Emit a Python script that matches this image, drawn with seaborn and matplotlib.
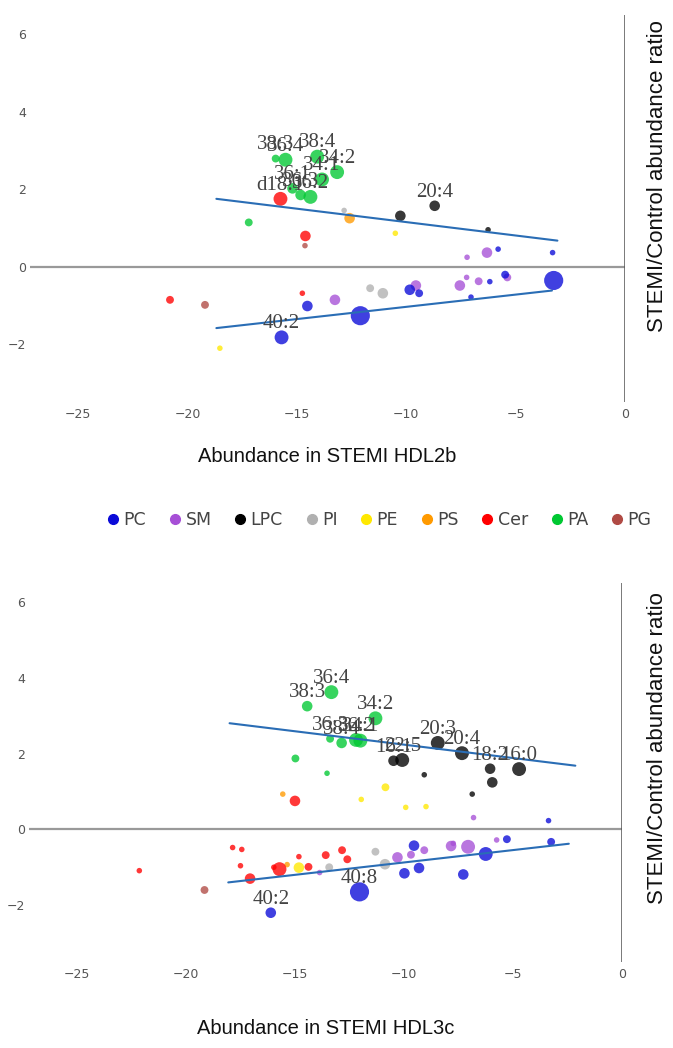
import numpy as np
import pandas as pd
import seaborn as sns
import matplotlib.pyplot as plt
from matplotlib.lines import Line2D

classes = ['PC', 'SM', 'LPC', 'PI', 'PE', 'PS', 'Cer', 'PA', 'PG']
class_colors = ['#0a0ad8', '#a64fd6', '#000000', '#b0b0b0', '#ffe800',
                '#ff9a00', '#ff0000', '#00c832', '#b04a44']

# ---- HDL2b panel ----
b2_x = [-15.97, -15.52, -14.07, -13.16, -13.85, -15.20, -14.83, -14.38, -17.20,
        -15.75, -14.61, -14.75, -20.80,
        -14.63, -19.20,
        -12.84, -11.65, -11.07,
        -12.59,
        -10.27, -8.70, -6.26,
        -10.50, -18.52,
        -6.31, -7.22, -7.24, -6.69, -7.55, -5.38, -9.56, -13.26,
        -5.80, -3.31, -3.26, -6.18, -5.48, -9.84, -9.41, -7.04, -14.52, -12.10, -15.70]
b2_y = [2.79, 2.76, 2.84, 2.44, 2.25, 2.02, 1.85, 1.80, 1.14,
        1.75, 0.79, -0.69, -0.86,
        0.54, -0.99,
        1.45, -0.56, -0.69,
        1.25,
        1.31, 1.57, 0.95,
        0.86, -2.11,
        0.36, 0.24, -0.28, -0.38, -0.49, -0.28, -0.49, -0.86,
        0.45, 0.36, -0.36, -0.39, -0.21, -0.60, -0.69, -0.79, -1.02, -1.27, -1.83]
b2_cls = ['PA'] * 9 + ['Cer'] * 4 + ['PG'] * 2 + ['PI'] * 3 + ['PS'] + ['LPC'] * 3 \
         + ['PE'] * 2 + ['SM'] * 8 + ['PC'] * 11
b2_wt = [2, 4, 4, 4, 4, 3, 3, 4, 2,
         4, 3, 1, 2,
         1, 2,
         1, 2, 3,
         3,
         3, 3, 1,
         1, 1,
         3, 1, 1, 2, 3, 2, 3, 3,
         1, 1, 5, 1, 2, 3, 2, 1, 3, 5, 4]
b2_lab = ['38:3', '36:4', '38:4', '34:2', '34:1', '36:1', '36:3', '36:2', '',
          'd18:1', '', '', '',
          '', '',
          '', '', '',
          '',
          '', '20:4', '',
          '', '',
          '', '', '', '', '', '', '', '',
          '', '', '', '', '', '', '', '', '', '', '40:2']
b2_up_x = [-18.68, -3.09]
b2_up_y = [1.75, 0.67]
b2_lo_x = [-18.68, -3.34]
b2_lo_y = [-1.59, -0.62]

# ---- HDL3c panel ----
b3_x = [-13.33, -14.44, -11.31, -13.39, -12.86, -12.20, -12.00, -14.98, -13.53,
        -10.48, -10.08, -8.45, -7.34, -6.05, -4.72, -9.07, -5.95, -6.87,
        -10.85, -11.96, -9.92, -8.99, -14.82,
        -15.56, -15.36,
        -15.00, -17.86, -17.44, -17.50, -17.06, -15.97, -15.71, -14.82, -14.38, -13.59,
        -12.84, -12.60, -22.14,
        -19.15,
        -11.31, -13.43, -10.87,
        -13.87, -10.30, -9.68, -9.07, -7.84, -7.74, -7.06, -5.75, -6.81,
        -9.54, -9.98, -9.31, -7.28, -6.25, -5.28, -3.25, -3.37, -12.04, -16.11]
b3_y = [3.62, 3.25, 2.93, 2.39, 2.28, 2.36, 2.34, 1.87, 1.48,
        1.81, 1.83, 2.28, 2.01, 1.60, 1.59, 1.44, 1.24, 0.93,
        1.11, 0.79, 0.58, 0.60, -1.01,
        0.93, -0.93,
        0.75, -0.48, -0.53, -0.96, -1.30, -1.00, -1.05, -0.72, -0.99, -0.68,
        -0.55, -0.79, -1.09,
        -1.60,
        -0.59, -1.00, -0.92,
        -1.14, -0.74, -0.67, -0.55, -0.44, -0.37, -0.46, -0.28, 0.31,
        -0.43, -1.16, -1.02, -1.19, -0.65, -0.26, -0.33, 0.23, -1.65, -2.20]
b3_cls = ['PA'] * 9 + ['LPC'] * 9 + ['PE'] * 5 + ['PS'] * 2 + ['Cer'] * 13 + ['PG'] \
         + ['PI'] * 3 + ['SM'] * 9 + ['PC'] * 10
b3_wt = [4, 3, 4, 2, 3, 4, 4, 2, 1,
         3, 4, 4, 4, 3, 4, 1, 3, 1,
         2, 1, 1, 1, 3,
         1, 1,
         3, 1, 1, 1, 3, 1, 4, 1, 2, 2,
         2, 2, 1,
         2,
         2, 2, 3,
         1, 3, 2, 2, 3, 1, 4, 1, 1,
         3, 3, 3, 3, 4, 2, 2, 1, 5, 3]
b3_lab = ['36:4', '38:3', '34:2', '36:3', '38:4', '36:2', '34:1', '', '',
          '16:1', '22:5', '20:3', '20:4', '18:2', '16:0', '', '', '',
          '', '', '', '', '',
          '', '',
          '', '', '', '', '', '', '', '', '', '',
          '', '', '',
          '',
          '', '', '',
          '', '', '', '', '', '', '', '', '',
          '', '', '', '', '', '', '', '', '40:8', '40:2']
b3_up_x = [-18.0, -2.14]
b3_up_y = [2.80, 1.68]
b3_lo_x = [-18.06, -2.44]
b3_lo_y = [-1.40, -0.38]

palette = dict(zip(classes, class_colors))
size_map = {1: 16, 2: 32, 3: 58, 4: 100, 5: 190}
W, H = 673, 1048


def draw_panel(ax, x, y, cls, wt, lab, up, lo, xlabel, xlab_y, ylab_x, ylab_y):
    df = pd.DataFrame({'x': x, 'y': y, 'cls': cls, 'wt': wt, 'lab': lab})
    ax.axhline(0, color='#999999', lw=1.6, zorder=1)
    ax.axvline(0, color='#555555', lw=1.1, zorder=1)
    sns.scatterplot(data=df, x='x', y='y', hue='cls', size='wt', palette=palette,
                    sizes=size_map, alpha=0.78, edgecolor='none', legend=False,
                    ax=ax, zorder=3)
    for lx, ly in (up, lo):
        sns.lineplot(x=lx, y=ly, ax=ax, color='#2a6db5', lw=1.5, zorder=4)
    for _, r in df[df.lab != ''].iterrows():
        ax.annotate(r.lab, (r.x, r.y), xytext=(0, 3), textcoords='offset points',
                    ha='center', va='bottom', fontsize=15, color='#444444',
                    family='Liberation Serif', zorder=5)
    ax.set_xlim(-27.2, 0)
    ax.set_ylim(-3.5, 6.5)
    ax.set_xticks([-25, -20, -15, -10, -5, 0])
    ax.set_yticks([-2, 0, 2, 4, 6])
    ax.set_xticklabels(['\u221225', '\u221220', '\u221215', '\u221210', '\u22125', '0'])
    ax.set_yticklabels(['\u22122', '0', '2', '4', '6'])
    ax.tick_params(length=0, labelsize=9, labelcolor='#555555')
    ax.tick_params(axis='x', pad=4)
    ax.tick_params(axis='y', pad=3)
    for s in ax.spines.values():
        s.set_visible(False)
    ax.set_xlabel(xlabel, fontsize=14.5, family='Liberation Sans', color='#111111')
    ax.xaxis.set_label_coords(0.5, xlab_y)
    ax.yaxis.set_label_position('right')
    ax.set_ylabel('STEMI/Control abundance ratio', fontsize=16,
                  family='Liberation Sans', color='#111111')
    ax.yaxis.set_label_coords(ylab_x, ylab_y)


sns.set_style('white')
plt.rcParams['font.family'] = ['DejaVu Sans']

fig = plt.figure(figsize=(W / 100, H / 100), dpi=100)
ax1 = fig.add_axes([30 / W, (H - 402) / H, 595 / W, 387 / H])
ax2 = fig.add_axes([29 / W, (H - 962) / H, 593 / W, 379 / H])

draw_panel(ax1, b2_x, b2_y, b2_cls, b2_wt, b2_lab, (b2_up_x, b2_up_y), (b2_lo_x, b2_lo_y),
           'Abundance in STEMI HDL2b', -0.115, 1.037, 0.585)
draw_panel(ax2, b3_x, b3_y, b3_cls, b3_wt, b3_lab, (b3_up_x, b3_up_y), (b3_lo_x, b3_lo_y),
           'Abundance in STEMI HDL3c', -0.15, 1.042, 0.565)

handles = [Line2D([], [], marker='o', ls='', color=c, markersize=7) for c in class_colors]
leg = fig.legend(handles, classes, loc='center', bbox_to_anchor=(378 / W, (H - 520) / H),
                 ncol=9, frameon=False, fontsize=12.5, handletextpad=0.1,
                 columnspacing=1.15, handlelength=1.0, labelcolor='#444444')

fig.savefig('out.png', dpi=100)
